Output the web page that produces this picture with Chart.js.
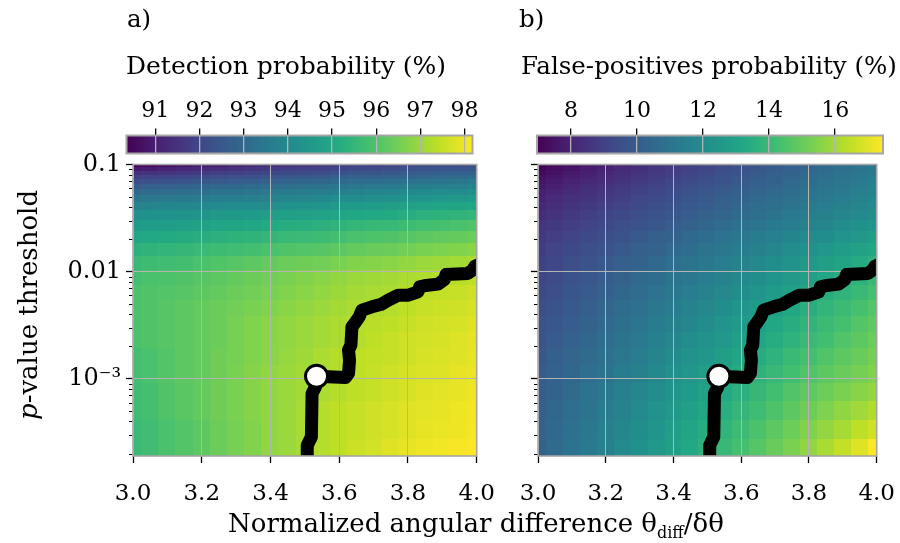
<!DOCTYPE html>
<html>
<head>
<meta charset="utf-8">
<script src="https://cdn.jsdelivr.net/npm/chart.js@4.4.1/dist/chart.umd.min.js"></script>
<style>
  body { margin: 0; background: #fff; }
  #wrap { position: relative; width: 900px; height: 543px; overflow: hidden; font-family: 'DejaVu Serif', serif; color: #000; }
  canvas { position: absolute; top: 0; }
  .txt { position: absolute; white-space: nowrap; }
</style>
</head>
<body>
<div id="wrap">
  <canvas id="hmA" width="500" height="543" style="left:0"></canvas>
  <canvas id="hmB" width="410" height="543" style="left:490px"></canvas>
  <canvas id="cbA" width="490" height="160" style="left:0"></canvas>
  <canvas id="cbB" width="410" height="160" style="left:490px"></canvas>
  <div class="txt" style="left:127px; top:7px; font-size:24.5px; line-height:24.5px">a)</div>
  <div class="txt" style="left:519px; top:7px; font-size:24.5px; line-height:24.5px">b)</div>
  <div class="txt" style="left:126px; top:53px; font-size:25px; line-height:25px">Detection probability (%)</div>
  <div class="txt" style="left:521px; top:54px; font-size:24.5px; line-height:24.5px">False-positives probability (%)</div>
  <div class="txt" style="left:228px; top:510px; font-size:26px; line-height:26px">Normalized angular difference θ<sub style="font-size:16px">diff</sub>/δθ</div>
  <div class="txt" style="left:-122px; top:292px; width:300px; text-align:center; font-size:26px; line-height:26px; transform:rotate(-90deg)"><i>p</i>-value threshold</div>
</div>
<script>
// grid columns (normalized angular difference) and rows (p-value threshold)
const xCenters = [3.00, 3.05, 3.10, 3.15, 3.20, 3.25, 3.30, 3.35, 3.40, 3.45, 3.50,
                  3.55, 3.60, 3.65, 3.70, 3.75, 3.80, 3.85, 3.90, 3.95, 4.00];
const pRows = [0.097, 0.090, 0.083, 0.076, 0.069, 0.062, 0.055, 0.048, 0.041, 0.034, 0.027,
               0.021, 0.016, 0.012, 0.0088, 0.0063, 0.0045, 0.0032, 0.0023, 0.0016, 0.0011,
               0.00075, 0.0005, 0.00033, 0.00022];

// detection probability (%), one row per p-value
const detection = [
  [90.35, 90.5, 90.6, 90.8, 90.9, 91.0, 91.1, 91.2, 91.3, 91.4, 91.5, 91.6, 91.7, 91.8, 91.85, 91.9, 92.0, 92.05, 92.1, 92.15, 92.2],
  [90.9, 91.0, 91.1, 91.2, 91.3, 91.4, 91.5, 91.6, 91.7, 91.8, 91.85, 91.9, 92.0, 92.1, 92.15, 92.2, 92.3, 92.35, 92.4, 92.45, 92.5],
  [91.4, 91.5, 91.55, 91.6, 91.7, 91.8, 91.85, 91.9, 92.0, 92.1, 92.15, 92.2, 92.3, 92.4, 92.45, 92.5, 92.6, 92.65, 92.7, 92.75, 92.8],
  [91.8, 91.9, 91.95, 92.0, 92.1, 92.2, 92.25, 92.3, 92.4, 92.5, 92.55, 92.6, 92.7, 92.75, 92.8, 92.85, 92.9, 92.95, 93.0, 93.05, 93.1],
  [92.2, 92.3, 92.35, 92.4, 92.5, 92.6, 92.65, 92.7, 92.8, 92.85, 92.9, 92.95, 93.0, 93.1, 93.15, 93.2, 93.3, 93.35, 93.4, 93.45, 93.5],
  [92.6, 92.7, 92.75, 92.8, 92.9, 92.95, 93.0, 93.05, 93.1, 93.2, 93.25, 93.3, 93.4, 93.45, 93.5, 93.55, 93.6, 93.65, 93.7, 93.75, 93.8],
  [93.0, 93.05, 93.1, 93.15, 93.2, 93.3, 93.35, 93.4, 93.5, 93.55, 93.6, 93.65, 93.7, 93.8, 93.85, 93.9, 94.0, 94.05, 94.1, 94.15, 94.2],
  [93.4, 93.45, 93.5, 93.55, 93.6, 93.65, 93.7, 93.75, 93.8, 93.9, 93.95, 94.0, 94.1, 94.15, 94.2, 94.25, 94.3, 94.4, 94.45, 94.5, 94.6],
  [93.8, 93.85, 93.9, 93.95, 94.0, 94.05, 94.1, 94.15, 94.2, 94.3, 94.35, 94.4, 94.5, 94.6, 94.65, 94.7, 94.8, 94.85, 94.9, 94.95, 95.0],
  [94.2, 94.25, 94.3, 94.35, 94.4, 94.5, 94.55, 94.6, 94.7, 94.75, 94.8, 94.85, 94.9, 95.0, 95.05, 95.1, 95.2, 95.3, 95.35, 95.4, 95.5],
  [94.6, 94.65, 94.7, 94.75, 94.8, 94.9, 94.95, 95.0, 95.1, 95.2, 95.25, 95.3, 95.4, 95.5, 95.55, 95.6, 95.7, 95.8, 95.85, 95.9, 96.0],
  [95.0, 95.05, 95.1, 95.15, 95.2, 95.3, 95.35, 95.4, 95.5, 95.6, 95.65, 95.7, 95.8, 95.9, 95.95, 96.0, 96.1, 96.2, 96.25, 96.3, 96.4],
  [95.3, 95.4, 95.45, 95.5, 95.6, 95.7, 95.75, 95.8, 95.9, 96.0, 96.05, 96.1, 96.2, 96.3, 96.35, 96.4, 96.5, 96.6, 96.65, 96.7, 96.8],
  [95.6, 95.7, 95.75, 95.8, 95.9, 96.0, 96.1, 96.2, 96.3, 96.4, 96.45, 96.5, 96.6, 96.7, 96.75, 96.8, 96.9, 97.0, 97.05, 97.1, 97.2],
  [95.8, 95.9, 95.95, 96.0, 96.1, 96.2, 96.3, 96.4, 96.5, 96.6, 96.7, 96.8, 96.9, 97.0, 97.05, 97.1, 97.2, 97.25, 97.3, 97.35, 97.4],
  [95.9, 96.0, 96.05, 96.1, 96.2, 96.3, 96.4, 96.5, 96.6, 96.7, 96.8, 96.9, 97.0, 97.1, 97.15, 97.2, 97.3, 97.4, 97.45, 97.5, 97.6],
  [95.9, 96.0, 96.1, 96.2, 96.3, 96.4, 96.5, 96.6, 96.7, 96.8, 96.9, 97.0, 97.1, 97.2, 97.25, 97.3, 97.4, 97.5, 97.55, 97.6, 97.7],
  [95.9, 96.0, 96.1, 96.2, 96.3, 96.4, 96.55, 96.7, 96.8, 96.9, 97.0, 97.1, 97.2, 97.3, 97.35, 97.4, 97.5, 97.6, 97.65, 97.7, 97.8],
  [95.9, 96.0, 96.1, 96.2, 96.3, 96.4, 96.55, 96.7, 96.8, 96.9, 97.0, 97.1, 97.2, 97.3, 97.4, 97.5, 97.6, 97.65, 97.7, 97.8, 97.85],
  [95.8, 95.9, 96.05, 96.2, 96.3, 96.45, 96.55, 96.7, 96.8, 96.95, 97.05, 97.2, 97.3, 97.4, 97.45, 97.5, 97.6, 97.7, 97.75, 97.8, 97.9],
  [95.8, 95.9, 96.05, 96.2, 96.3, 96.45, 96.6, 96.75, 96.9, 97.0, 97.1, 97.2, 97.3, 97.4, 97.5, 97.6, 97.7, 97.75, 97.8, 97.9, 97.95],
  [95.7, 95.85, 96.0, 96.15, 96.3, 96.45, 96.6, 96.75, 96.9, 97.0, 97.1, 97.2, 97.3, 97.4, 97.5, 97.6, 97.7, 97.8, 97.85, 97.9, 98.0],
  [95.7, 95.85, 96.0, 96.15, 96.3, 96.45, 96.6, 96.75, 96.9, 97.0, 97.15, 97.3, 97.4, 97.5, 97.6, 97.7, 97.8, 97.85, 97.9, 98.0, 98.05],
  [95.6, 95.75, 95.9, 96.05, 96.2, 96.4, 96.55, 96.7, 96.9, 97.0, 97.15, 97.3, 97.4, 97.5, 97.6, 97.7, 97.8, 97.9, 97.95, 98.0, 98.1],
  [95.6, 95.75, 95.9, 96.05, 96.2, 96.4, 96.55, 96.7, 96.9, 97.0, 97.15, 97.3, 97.4, 97.55, 97.65, 97.8, 97.9, 98.0, 98.05, 98.1, 98.18]
];

// false-positives probability (%)
const falsePos = [
  [6.97, 7.2, 7.45, 7.7, 7.9, 8.1, 8.3, 8.5, 8.7, 8.9, 9.1, 9.3, 9.5, 9.7, 9.9, 10.1, 10.3, 10.5, 10.7, 10.9, 11.1],
  [7.1, 7.35, 7.55, 7.8, 8.0, 8.2, 8.4, 8.6, 8.8, 9.0, 9.2, 9.4, 9.6, 9.8, 10.0, 10.2, 10.4, 10.6, 10.8, 11.0, 11.2],
  [7.25, 7.45, 7.7, 7.9, 8.1, 8.3, 8.5, 8.7, 8.9, 9.1, 9.3, 9.5, 9.7, 9.9, 10.1, 10.3, 10.5, 10.7, 10.9, 11.05, 11.25],
  [7.4, 7.6, 7.8, 8.0, 8.2, 8.4, 8.6, 8.8, 9.0, 9.2, 9.4, 9.6, 9.8, 10.0, 10.2, 10.4, 10.6, 10.8, 10.95, 11.15, 11.3],
  [7.55, 7.75, 7.95, 8.15, 8.35, 8.55, 8.75, 8.95, 9.15, 9.35, 9.5, 9.7, 9.9, 10.1, 10.3, 10.5, 10.7, 10.9, 11.05, 11.25, 11.4],
  [7.7, 7.9, 8.1, 8.3, 8.5, 8.7, 8.9, 9.1, 9.3, 9.45, 9.65, 9.8, 10.0, 10.2, 10.4, 10.6, 10.8, 10.95, 11.15, 11.3, 11.5],
  [7.85, 8.05, 8.25, 8.4, 8.6, 8.8, 9.0, 9.2, 9.4, 9.6, 9.8, 9.95, 10.15, 10.35, 10.5, 10.7, 10.9, 11.1, 11.25, 11.45, 11.6],
  [8.0, 8.2, 8.4, 8.55, 8.75, 8.95, 9.15, 9.35, 9.55, 9.75, 9.9, 10.1, 10.3, 10.5, 10.65, 10.85, 11.05, 11.2, 11.4, 11.6, 11.75],
  [8.15, 8.35, 8.55, 8.7, 8.9, 9.1, 9.3, 9.5, 9.7, 9.9, 10.05, 10.25, 10.45, 10.65, 10.8, 11.0, 11.2, 11.4, 11.55, 11.75, 11.9],
  [8.3, 8.5, 8.7, 8.9, 9.1, 9.3, 9.5, 9.65, 9.85, 10.05, 10.25, 10.4, 10.6, 10.8, 11.0, 11.2, 11.4, 11.55, 11.75, 11.9, 12.1],
  [8.5, 8.7, 8.9, 9.1, 9.3, 9.5, 9.7, 9.85, 10.05, 10.25, 10.45, 10.65, 10.85, 11.05, 11.25, 11.4, 11.6, 11.8, 12.0, 12.2, 12.4],
  [8.7, 8.9, 9.1, 9.3, 9.5, 9.7, 9.9, 10.1, 10.3, 10.5, 10.7, 10.9, 11.1, 11.3, 11.5, 11.7, 11.9, 12.1, 12.35, 12.55, 12.8],
  [8.85, 9.05, 9.3, 9.5, 9.7, 9.9, 10.1, 10.3, 10.5, 10.7, 10.95, 11.15, 11.35, 11.55, 11.8, 12.0, 12.2, 12.45, 12.7, 12.95, 13.2],
  [9.0, 9.2, 9.45, 9.7, 9.9, 10.1, 10.3, 10.55, 10.75, 10.95, 11.15, 11.4, 11.6, 11.85, 12.1, 12.3, 12.55, 12.8, 13.05, 13.35, 13.6],
  [9.15, 9.35, 9.6, 9.8, 10.05, 10.25, 10.5, 10.7, 10.95, 11.15, 11.4, 11.6, 11.85, 12.1, 12.35, 12.6, 12.9, 13.15, 13.45, 13.7, 14.0],
  [9.3, 9.5, 9.75, 9.95, 10.2, 10.45, 10.65, 10.9, 11.15, 11.4, 11.6, 11.85, 12.1, 12.4, 12.65, 12.9, 13.2, 13.45, 13.75, 14.0, 14.3],
  [9.45, 9.7, 9.9, 10.15, 10.4, 10.65, 10.85, 11.1, 11.35, 11.6, 11.85, 12.1, 12.35, 12.65, 12.9, 13.2, 13.5, 13.8, 14.05, 14.35, 14.6],
  [9.6, 9.85, 10.05, 10.3, 10.55, 10.8, 11.05, 11.3, 11.55, 11.8, 12.05, 12.35, 12.6, 12.9, 13.2, 13.45, 13.75, 14.05, 14.3, 14.6, 14.85],
  [9.7, 9.95, 10.2, 10.45, 10.7, 10.95, 11.2, 11.5, 11.75, 12.0, 12.3, 12.55, 12.85, 13.15, 13.4, 13.7, 14.0, 14.25, 14.55, 14.8, 15.05],
  [9.85, 10.1, 10.35, 10.6, 10.85, 11.1, 11.4, 11.65, 11.95, 12.25, 12.5, 12.8, 13.1, 13.4, 13.7, 14.0, 14.3, 14.55, 14.8, 15.0, 15.25],
  [9.95, 10.2, 10.45, 10.75, 11.0, 11.3, 11.55, 11.85, 12.15, 12.45, 12.75, 13.05, 13.35, 13.65, 13.95, 14.25, 14.55, 14.8, 15.0, 15.25, 15.45],
  [10.05, 10.3, 10.6, 10.9, 11.15, 11.45, 11.75, 12.05, 12.35, 12.65, 12.95, 13.3, 13.6, 13.9, 14.25, 14.55, 14.85, 15.1, 15.35, 15.55, 15.75],
  [10.15, 10.45, 10.75, 11.0, 11.3, 11.6, 11.9, 12.25, 12.55, 12.9, 13.2, 13.5, 13.85, 14.15, 14.5, 14.8, 15.15, 15.4, 15.7, 15.95, 16.2],
  [10.25, 10.55, 10.85, 11.15, 11.45, 11.75, 12.1, 12.4, 12.75, 13.1, 13.4, 13.75, 14.1, 14.45, 14.8, 15.1, 15.45, 15.75, 16.05, 16.4, 16.7],
  [10.3, 10.6, 10.9, 11.25, 11.55, 11.9, 12.2, 12.55, 12.9, 13.25, 13.6, 13.95, 14.3, 14.65, 15.0, 15.35, 15.7, 16.1, 16.5, 16.95, 17.4]
];

// optimal threshold curve and chosen operating point
const curveX = [3.507, 3.507, 3.514, 3.519, 3.521, 3.531, 3.534, 3.618, 3.627, 3.630, 3.627, 3.634,
                3.637, 3.648, 3.658, 3.666, 3.695, 3.723, 3.743, 3.772, 3.801, 3.829, 3.834, 3.853,
                3.887, 3.906, 3.911, 3.974, 3.988, 3.995, 4.010];
const curveP = [0.00015, 0.000239, 0.000266, 0.000286, 0.000728, 0.00084, 0.001054, 0.001025, 0.00112, 0.00149, 0.00185, 0.00206,
                0.00305, 0.0034, 0.00378, 0.00437, 0.00469, 0.00497, 0.00542, 0.00603, 0.00603, 0.00648, 0.00721, 0.00743,
                0.00764, 0.00846, 0.00942, 0.00962, 0.01033, 0.01125, 0.0118];
const markerX = [3.534];
const markerP = [0.001054];

// axes
const xRange = [3.0, 4.0];
const pRange = [0.00019, 0.1];
const xTicks = [3.0, 3.2, 3.4, 3.6, 3.8, 4.0];
const pMajor = [0.001, 0.01, 0.1];
const pMajorLabels = ['10⁻³', '0.01', '0.1'];
const pMinor = [0.0002, 0.0003, 0.0004, 0.0005, 0.0006, 0.0007, 0.0008, 0.0009,
                0.002, 0.003, 0.004, 0.005, 0.006, 0.007, 0.008, 0.009,
                0.02, 0.03, 0.04, 0.05, 0.06, 0.07, 0.08, 0.09];
const detRange = [90.35, 98.18];
const detTicks = [91, 92, 93, 94, 95, 96, 97, 98];
const fpRange = [6.97, 17.45];
const fpTicks = [8, 10, 12, 14, 16];

const VIRIDIS = ['#440154', '#482475', '#414487', '#355f8d', '#2a788e', '#21918c',
                 '#22a884', '#44bf70', '#7ad151', '#bddf26', '#fde725'];
const hexRgb = h => [1, 3, 5].map(i => parseInt(h.slice(i, i + 2), 16));
const VIR_RGB = VIRIDIS.map(hexRgb);
function viridis(t) {
    t = Math.max(0, Math.min(1, t));
    const f = t * (VIR_RGB.length - 1);
    const i = Math.min(VIR_RGB.length - 2, Math.floor(f));
    const k = f - i, a = VIR_RGB[i], b = VIR_RGB[i + 1];
    const c = a.map((v, j) => Math.round(v + (b[j] - v) * k));
    return `rgb(${c[0]},${c[1]},${c[2]})`;
}

const SERIF = "'DejaVu Serif', serif";
const GRID = '#b4b4b4';
const FRAME = '#a6a6a6';

// heatmap cells, drawn under the grid lines
const heatmapPlugin = {
    id: 'heatmap',
    beforeDraw(chart, args, opts) {
        if (!opts.values) return;
        const { ctx, chartArea: a, scales: { x, y } } = chart;
        const [lo, hi] = opts.range;
        ctx.save();
        ctx.beginPath();
        ctx.rect(a.left, a.top, a.width, a.height);
        ctx.clip();
        pRows.forEach((p, r) => {
            const pTop = r === 0 ? y.max : Math.sqrt(pRows[r - 1] * p);
            const pBot = r === pRows.length - 1 ? y.min : Math.sqrt(pRows[r + 1] * p);
            const y0 = Math.floor(y.getPixelForValue(pTop));
            const y1 = Math.ceil(y.getPixelForValue(pBot));
            xCenters.forEach((xc, c) => {
                const xl = c === 0 ? x.min : (xCenters[c - 1] + xc) / 2;
                const xr = c === xCenters.length - 1 ? x.max : (xCenters[c + 1] + xc) / 2;
                const x0 = Math.floor(x.getPixelForValue(xl));
                const x1 = Math.ceil(x.getPixelForValue(xr));
                ctx.fillStyle = viridis((opts.values[r][c] - lo) / (hi - lo));
                ctx.fillRect(x0, y0, x1 - x0, y1 - y0);
            });
        });
        ctx.restore();
    },
    afterDraw(chart, args, opts) {
        if (!opts.values) return;
        const { ctx, chartArea: a, scales: { y } } = chart;
        ctx.save();
        ctx.strokeStyle = '#000';
        ctx.lineWidth = 1;
        pMinor.forEach(v => {
            const py = Math.round(y.getPixelForValue(v)) + 0.5;
            ctx.beginPath();
            ctx.moveTo(a.left - 4, py);
            ctx.lineTo(a.left, py);
            ctx.stroke();
        });
        ctx.restore();
    }
};

// colorbar gradient
const colorbarPlugin = {
    id: 'colorbar',
    beforeDraw(chart, args, opts) {
        if (!opts.range) return;
        const { ctx, chartArea: a, scales: { x } } = chart;
        const [lo, hi] = opts.range;
        for (let px = Math.floor(a.left); px < a.right; px++) {
            const v = x.getValueForPixel(px + 0.5);
            ctx.fillStyle = viridis((v - lo) / (hi - lo));
            ctx.fillRect(px, a.top, 1, a.height);
        }
    }
};

const framePlugin = {
    id: 'frame',
    afterDraw(chart, args, opts) {
        const { ctx, chartArea: a } = chart;
        ctx.save();
        ctx.strokeStyle = FRAME;
        ctx.lineWidth = opts.width || 1.6;
        ctx.strokeRect(a.left, a.top, a.width, a.height);
        ctx.restore();
    }
};

Chart.register(heatmapPlugin, colorbarPlugin, framePlugin);

const makeHeatmap = (id, values, range, yWidth, padRight, showYLabels) => {
    new Chart(document.getElementById(id), {
        type: 'scatter',
        data: {
            datasets: [
                {
                    data: markerX.map((v, i) => ({ x: v, y: markerP[i] })),
                    pointRadius: 11,
                    pointBackgroundColor: '#fff',
                    pointBorderColor: '#000',
                    pointBorderWidth: 3
                },
                {
                    data: curveX.map((v, i) => ({ x: v, y: curveP[i] })),
                    showLine: true,
                    borderColor: '#000',
                    borderWidth: 13,
                    borderCapStyle: 'round',
                    borderJoinStyle: 'round',
                    pointRadius: 0
                }
            ]
        },
        options: {
            responsive: false,
            animation: false,
            devicePixelRatio: 1,
            layout: { autoPadding: false, padding: { left: 0, top: 164.5, right: padRight, bottom: 40 } },
            plugins: {
                legend: { display: false },
                tooltip: { enabled: false },
                heatmap: { values, range },
                frame: { width: 1.6 }
            },
            scales: {
                x: {
                    type: 'linear',
                    min: xRange[0], max: xRange[1],
                    bounds: 'data',
                    afterBuildTicks: s => { s.ticks = xTicks.map(v => ({ value: v })); },
                    afterFit: s => { s.height = 47; },
                    border: { display: false },
                    grid: { color: GRID, lineWidth: 1, tickColor: '#000', tickLength: 7, tickWidth: 1.3 },
                    ticks: { autoSkip: false, maxRotation: 0, color: '#000',
                             font: { family: SERIF, size: 23, lineHeight: 2.26 },
                             padding: 5, callback: v => v.toFixed(1) }
                },
                y: {
                    type: 'logarithmic',
                    min: pRange[0], max: pRange[1],
                    bounds: 'data',
                    afterBuildTicks: s => { s.ticks = pMajor.map(v => ({ value: v, major: true })); },
                    afterFit: s => { s.width = yWidth; },
                    border: { display: false },
                    grid: { color: GRID, lineWidth: 1, tickColor: '#000', tickLength: 7, tickWidth: 1.3 },
                    ticks: { autoSkip: false, color: '#000', font: { family: SERIF, size: 24 }, padding: 5,
                             callback: v => showYLabels ? pMajorLabels[pMajor.indexOf(v)] : '' }
                }
            }
        }
    });
};

const makeColorbar = (id, range, ticks, padLeft, padRight) => {
    new Chart(document.getElementById(id), {
        type: 'scatter',
        data: { datasets: [] },
        options: {
            responsive: false,
            animation: false,
            devicePixelRatio: 1,
            layout: { autoPadding: false, padding: { left: padLeft, top: 90, right: padRight, bottom: 6.5 } },
            plugins: {
                legend: { display: false },
                tooltip: { enabled: false },
                colorbar: { range },
                frame: { width: 2 }
            },
            scales: {
                x: {
                    type: 'linear',
                    position: 'top',
                    min: range[0], max: range[1],
                    bounds: 'data',
                    afterBuildTicks: s => { s.ticks = ticks.map(v => ({ value: v })); },
                    afterFit: s => { s.height = 45.5; },
                    border: { display: false },
                    grid: { color: GRID, lineWidth: 1.3, tickColor: '#000', tickLength: 7, tickWidth: 1.3 },
                    ticks: { autoSkip: false, maxRotation: 0, color: '#000', font: { family: SERIF, size: 22 },
                             padding: 4, callback: v => String(v) }
                },
                y: { display: false, min: 0, max: 1 }
            }
        }
    });
};

makeHeatmap('hmA', detection, detRange, 133, 21, true);
makeHeatmap('hmB', falsePos, fpRange, 48, 16, false);
makeColorbar('cbA', detRange, detTicks, 126.5, 17.5);
makeColorbar('cbB', fpRange, fpTicks, 47, 17);
</script>
</body>
</html>
